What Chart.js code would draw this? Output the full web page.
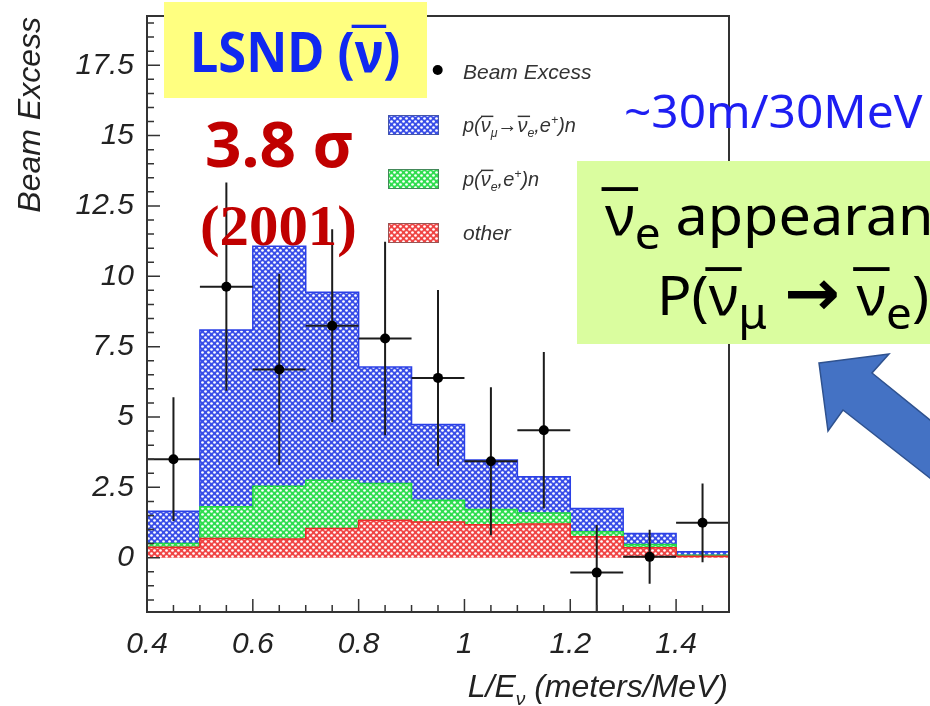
<!DOCTYPE html>
<html>
<head>
<meta charset="utf-8">
<script src="https://cdn.jsdelivr.net/npm/chart.js@4.4.1/dist/chart.umd.min.js"></script>
<style>
  html, body { margin: 0; padding: 0; background: #fff; }
  canvas { display: block; }
</style>
</head>
<body>
<canvas id="lsnd" width="930" height="706"></canvas>
<script>
// bins in L/E (meters/MeV)
const binEdges = [0.4, 0.5, 0.6, 0.7, 0.8, 0.9, 1.0, 1.1, 1.2, 1.3, 1.4, 1.5];
// stacked expectation, one value per bin
const otherBkg  = [0.37, 0.68, 0.66, 1.04, 1.33, 1.27, 1.17, 1.20, 0.74, 0.35, 0.05];
const nueBkg    = [0.13, 1.13, 1.88, 1.71, 1.31, 0.77, 0.54, 0.39, 0.18, 0.12, 0.04];
const oscSignal = [1.15, 6.28, 8.53, 6.68, 4.14, 2.69, 1.76, 1.29, 0.83, 0.39, 0.12];
// beam excess points
const beamX   = [0.45, 0.55, 0.65, 0.75, 0.85, 0.95, 1.05, 1.15, 1.25, 1.35, 1.45];
const beamY   = [3.50, 9.63, 6.69, 8.24, 7.79, 6.39, 3.43, 4.53, -0.53, 0.03, 1.24];
const beamErr = [2.20, 3.70, 3.40, 3.43, 3.44, 3.12, 2.63, 2.78, 1.69, 0.96, 1.40];
// axis ticks
const xTicks = [0.4, 0.6, 0.8, 1, 1.2, 1.4];
const yTicks = [0, 2.5, 5, 7.5, 10, 12.5, 15, 17.5];

const canvas = document.getElementById('lsnd');
const ctx0 = canvas.getContext('2d');

function hatch(color) {
  const t = document.createElement('canvas');
  t.width = 6; t.height = 6;
  const g = t.getContext('2d');
  g.fillStyle = color;
  g.fillRect(0, 0, 6, 6);
  g.fillStyle = '#fff';
  [[1.5, 1.5], [4.5, 4.5]].forEach(([cx, cy]) => {
    g.beginPath(); g.arc(cx, cy, 1.35, 0, Math.PI * 2); g.fill();
  });
  return ctx0.createPattern(t, 'repeat');
}

const redTop = otherBkg;
const greenTop = otherBkg.map((v, i) => v + nueBkg[i]);
const blueTop = greenTop.map((v, i) => v + oscSignal[i]);

function stepPoints(vals) {
  const pts = vals.map((v, i) => ({ x: binEdges[i], y: v }));
  pts.push({ x: binEdges[vals.length], y: vals[vals.length - 1] });
  return pts;
}

const colRed = '#ee2a2a', colGreen = '#22d944', colBlue = '#2b40e6';
const patRed = hatch('#f04545'), patGreen = hatch('#30dd50'), patBlue = hatch('#3a4ee8');

// draws text pieces with sub/sup and overbars
function richText(ctx, parts, x, y, font, opts = {}) {
  const sx = opts.sx || 1;
  const fontFor = (p) => {
    const size = p.size || ((p.sub || p.sup) ? font.size * (font.subScale || 0.7) : font.size);
    return [size, `${font.style || 'normal'} ${p.weight || font.weight || 'normal'} ${size}px ${p.family || font.family}`];
  };
  let total = 0;
  parts.forEach(p => { ctx.font = fontFor(p)[1]; total += (p.dx || 0) + ctx.measureText(p.t).width; });
  ctx.save();
  ctx.translate(opts.align === 'right' ? x - total * sx : x, y);
  ctx.scale(sx, 1);
  ctx.textAlign = 'left';
  ctx.textBaseline = 'alphabetic';
  ctx.fillStyle = font.color;
  let cx = 0;
  parts.forEach(p => {
    const [size, f] = fontFor(p);
    ctx.font = f;
    cx += p.dx || 0;
    const dy = p.sub ? font.size * (font.subOff || 0.22) : p.sup ? -font.size * 0.4 : (p.dy || 0);
    ctx.fillText(p.t, cx, dy);
    const w = ctx.measureText(p.t).width;
    if (p.bar) {
      const bh = Math.max(1.2, size * (font.barT || 0.06));
      ctx.fillRect(cx - size * 0.06 + (font.barShift || 0), dy - size * (font.barH || 0.8), w + size * 0.12, bh);
    }
    cx += w;
  });
  ctx.restore();
  return total * sx;
}

const frame = {
  id: 'frame',
  afterDatasetsDraw(chart) {
    const { ctx, chartArea: a, scales: { x, y } } = chart;
    ctx.save();
    ctx.strokeStyle = '#333';
    ctx.lineWidth = 2;
    ctx.strokeRect(a.left, a.top, a.right - a.left, a.bottom - a.top);
    ctx.lineWidth = 1.5;
    ctx.beginPath();
    for (let k = Math.ceil(y.min / 0.5); k * 0.5 <= y.max; k++) {
      const py = y.getPixelForValue(k * 0.5);
      ctx.moveTo(a.left, py);
      ctx.lineTo(a.left + (k % 5 === 0 ? 13 : 7), py);
    }
    for (let k = Math.round(x.min / 0.05); k * 0.05 <= x.max + 1e-9; k++) {
      const px = x.getPixelForValue(k * 0.05);
      ctx.moveTo(px, a.bottom);
      ctx.lineTo(px, a.bottom - (k % 4 === 0 ? 13 : 7));
    }
    ctx.stroke();
    ctx.restore();
  }
};

const errorBars = {
  id: 'errorBars',
  beforeDatasetDraw(chart, args) {
    if (args.index !== 3) return;
    const { ctx, chartArea: a, scales: { x, y } } = chart;
    ctx.save();
    ctx.beginPath();
    ctx.rect(a.left, a.top, a.right - a.left, a.bottom - a.top);
    ctx.clip();
    ctx.strokeStyle = '#1c1c1c';
    ctx.lineWidth = 2;
    ctx.beginPath();
    beamX.forEach((bx, i) => {
      const half = (binEdges[i + 1] - binEdges[i]) / 2;
      const px = x.getPixelForValue(bx), py = y.getPixelForValue(beamY[i]);
      ctx.moveTo(px, y.getPixelForValue(beamY[i] + beamErr[i]));
      ctx.lineTo(px, y.getPixelForValue(beamY[i] - beamErr[i]));
      ctx.moveTo(x.getPixelForValue(bx - half), py);
      ctx.lineTo(x.getPixelForValue(bx + half), py);
    });
    ctx.stroke();
    ctx.restore();
  }
};

const overlay = {
  id: 'overlay',
  afterDraw(chart) {
    const ctx = chart.ctx;
    ctx.save();

    // legend
    const legFont = { size: 21, family: "'Liberation Sans', sans-serif", style: 'italic', color: '#333', subScale: 0.62, subOff: 0.22, barH: 0.78, barT: 0.07, barShift: 1.5 };
    ctx.fillStyle = '#000';
    ctx.beginPath(); ctx.arc(437.7, 70, 5, 0, Math.PI * 2); ctx.fill();
    richText(ctx, [{ t: 'Beam Excess' }], 463, 79, legFont);
    [[115, patBlue, '#4455aa'], [169, patGreen, '#44885a'], [223, patRed, '#995555']].forEach(([ty, pat, edge]) => {
      ctx.fillStyle = pat;
      ctx.fillRect(388, ty, 50, 19);
      ctx.strokeStyle = edge; ctx.lineWidth = 1;
      ctx.strokeRect(388.5, ty + 0.5, 50, 19);
    });
    richText(ctx, [{ t: 'p(' }, { t: 'ν', bar: true }, { t: 'μ', sub: true }, { t: '→' }, { t: 'ν', bar: true }, { t: 'e', sub: true }, { t: ',' }, { t: 'e' }, { t: '+', sup: true }, { t: ')n' }], 463, 132, legFont, { sx: 0.95 });
    richText(ctx, [{ t: 'p(' }, { t: 'ν', bar: true }, { t: 'e', sub: true }, { t: ',' }, { t: 'e' }, { t: '+', sup: true }, { t: ')n' }], 463, 186, legFont, { sx: 0.95 });
    richText(ctx, [{ t: 'other' }], 463, 240, legFont);

    // yellow label
    ctx.fillStyle = '#ffff80';
    ctx.fillRect(164, 2, 263, 96);
    richText(ctx, [{ t: 'LSND (' }, { t: 'ν', bar: true }, { t: ')' }], 190, 72,
      { size: 55, family: "'Noto Sans', sans-serif", weight: 'bold', color: '#1028f0', barH: 0.86, barT: 0.06 }, { sx: 0.92 });

    // significance
    richText(ctx, [{ t: '3.8 σ' }], 205, 167, { size: 62, family: "'Noto Sans', sans-serif", weight: 'bold', color: '#c00000' }, { sx: 1.03 });
    richText(ctx, [{ t: '(2001)' }], 200, 245, { size: 56, family: "'Liberation Serif', serif", weight: 'bold', color: '#c00000' }, { sx: 1.05 });

    richText(ctx, [{ t: '~30m/30MeV' }], 624, 128, { size: 46, family: "'Noto Sans', sans-serif", color: '#1e1ef2' }, { sx: 1.04 });

    // green box
    ctx.fillStyle = '#dafd9f';
    ctx.fillRect(577, 161, 360, 183);
    const boxFont = { size: 55, family: "'Noto Sans', sans-serif", color: '#000', subScale: 0.8, subOff: 0.25, barH: 0.87, barT: 0.07 };
    richText(ctx, [{ t: 'ν', bar: true }, { t: 'e', sub: true }, { t: ' appearance' }], 605, 235, boxFont, { sx: 1.045 });
    richText(ctx, [{ t: 'P(' }, { t: 'ν', bar: true }, { t: 'μ', sub: true }, { t: ' ' },
      { t: '→', family: "'DejaVu Sans', sans-serif", weight: 'bold', size: 64, dx: 2 }, { t: ' ' },
      { t: 'ν', bar: true, dx: 2 }, { t: 'e', sub: true }, { t: ')' }], 657, 315, boxFont, { sx: 1.04 });

    // arrow
    ctx.beginPath();
    ctx.moveTo(819, 363);
    ctx.lineTo(889, 354);
    ctx.lineTo(872, 373);
    ctx.lineTo(940, 428);
    ctx.lineTo(940, 486);
    ctx.lineTo(843, 410);
    ctx.lineTo(828, 431);
    ctx.closePath();
    ctx.fillStyle = '#4472c4';
    ctx.fill();
    ctx.strokeStyle = '#2f528f';
    ctx.lineWidth = 1.5;
    ctx.stroke();

    // axis titles
    const titleFont = { size: 32, family: "'Liberation Sans', sans-serif", style: 'italic', color: '#222', subScale: 0.6, subOff: 0.25 };
    richText(ctx, [{ t: 'L/E' }, { t: 'ν', sub: true }, { t: ' (meters/MeV)' }], 728, 697, titleFont, { align: 'right' });
    ctx.translate(40, 17);
    ctx.rotate(-Math.PI / 2);
    ctx.font = "italic 32px 'Liberation Sans', sans-serif";
    ctx.fillStyle = '#222';
    ctx.textAlign = 'right';
    ctx.textBaseline = 'alphabetic';
    ctx.fillText('Beam Excess', 0, 0);
    ctx.restore();
  }
};

const tickFont = { family: "'Liberation Sans', sans-serif", size: 30, style: 'italic', lineHeight: 0.7 };

new Chart(canvas, {
  type: 'line',
  data: {
    datasets: [
      { label: 'other', data: stepPoints(redTop), stepped: true, borderColor: colRed, borderWidth: 1.5, backgroundColor: patRed, fill: 'origin', pointRadius: 0 },
      { label: 'p(nue,e+)n', data: stepPoints(greenTop), stepped: true, borderColor: colGreen, borderWidth: 1.5, backgroundColor: patGreen, fill: '-1', pointRadius: 0 },
      { label: 'p(numu->nue,e+)n', data: stepPoints(blueTop), stepped: true, borderColor: colBlue, borderWidth: 1.5, backgroundColor: patBlue, fill: '-1', pointRadius: 0 },
      { label: 'Beam Excess', data: beamX.map((bx, i) => ({ x: bx, y: beamY[i] })), showLine: false, order: -1, pointRadius: 5, pointBackgroundColor: '#000', pointBorderWidth: 0 }
    ]
  },
  options: {
    responsive: false,
    animation: false,
    devicePixelRatio: 1,
    events: [],
    layout: { padding: { top: 16, right: 201, left: 0, bottom: 0 } },
    plugins: { legend: { display: false }, tooltip: { enabled: false } },
    scales: {
      x: {
        type: 'linear', min: 0.4, max: 1.5,
        grid: { display: false }, border: { display: false },
        afterBuildTicks: s => { s.ticks = xTicks.map(v => ({ value: v })); },
        afterFit: s => { s.height = 94; },
        ticks: { font: tickFont, color: '#222', padding: 14, autoSkip: false, maxRotation: 0, callback: v => String(v) }
      },
      y: {
        type: 'linear', min: -1.93, max: 19.25,
        grid: { display: false }, border: { display: false },
        afterBuildTicks: s => { s.ticks = yTicks.map(v => ({ value: v })); },
        afterFit: s => { s.width = 147; },
        ticks: { font: tickFont, color: '#222', padding: 5, autoSkip: false, callback: v => String(v) }
      }
    }
  },
  plugins: [frame, errorBars, overlay]
});
</script>
</body>
</html>
